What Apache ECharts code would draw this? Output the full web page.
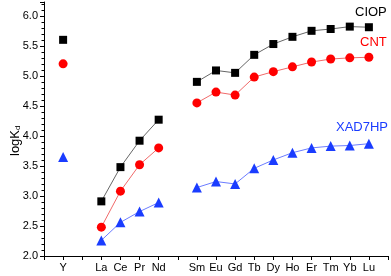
<!DOCTYPE html>
<html><head><meta charset="utf-8">
<script src="https://cdn.jsdelivr.net/npm/echarts@6/dist/echarts.min.js"></script>
<style>html,body{margin:0;padding:0;background:#fff}#c{width:391px;height:276px}</style>
</head><body><div id="c"></div>
<script>
const categories = ['', 'Y', '', 'La', 'Ce', 'Pr', 'Nd', '', 'Sm', 'Eu', 'Gd', 'Tb', 'Dy', 'Ho', 'Er', 'Tm', 'Yb', 'Lu', ''];
const ciop   = [null, 5.60, null, 2.91, 3.48, 3.92, 4.27, null, 4.90, 5.09, 5.05, 5.35, 5.53, 5.65, 5.75, 5.78, 5.82, 5.81, null];
const cnt    = [null, 5.20, null, 2.48, 3.08, 3.52, 3.80, null, 4.55, 4.73, 4.68, 4.98, 5.07, 5.15, 5.23, 5.28, 5.30, 5.31, null];
const xad7hp = [null, 3.65, null, 2.26, 2.56, 2.74, 2.89, null, 3.14, 3.24, 3.20, 3.46, 3.60, 3.72, 3.80, 3.83, 3.84, 3.87, null];
const seriesNames = ['CIOP', 'CNT', 'XAD7HP'];
const yTicks = [2.0, 2.5, 3.0, 3.5, 4.0, 4.5, 5.0, 5.5, 6.0];

const chart = echarts.init(document.getElementById('c'), null, {renderer: 'canvas'});
const font = 'Liberation Sans, Arial, sans-serif';
function mk(name, data, sym, size, color, lineColor) {
  return {
    name: name, type: 'line', data: data, connectNulls: false,
    symbol: sym, symbolSize: size, showSymbol: true,
    itemStyle: {color: color},
    lineStyle: {color: lineColor, width: 1},
    animation: false
  };
}
chart.setOption({
  animation: false,
  grid: {left: 44, right: 3, top: 2, bottom: 20, containLabel: false},
  xAxis: {
    type: 'category', data: categories, boundaryGap: false,
    axisLine: {lineStyle: {color: '#000', width: 1}},
    axisTick: {show: true, inside: false, length: 4, alignWithLabel: true, interval: 0, lineStyle: {color: '#000'}},
    axisLabel: {interval: 0, color: '#000', fontFamily: font, fontSize: 11, margin: 6},
    splitLine: {show: false}
  },
  yAxis: {
    type: 'value', min: 2.0, max: 6.23, interval: 0.5,
    axisLine: {show: true, lineStyle: {color: '#000', width: 1}},
    axisTick: {show: true, inside: false, length: 4, lineStyle: {color: '#000'}},
    minorTick: {show: true, splitNumber: 5, length: 2.5, lineStyle: {color: '#000'}},
    axisLabel: {color: '#000', fontFamily: font, fontSize: 11, margin: 6, showMaxLabel: false,
      formatter: v => yTicks.indexOf(v) >= 0 ? v.toFixed(1) : ''},
    splitLine: {show: false}
  },
  series: [
    mk(seriesNames[0], ciop, 'rect', 8, '#000000', '#666666'),
    mk(seriesNames[1], cnt, 'circle', 9, '#ff0000', '#f06a6a'),
    mk(seriesNames[2], xad7hp, 'triangle', 10, '#1a3cff', '#6b7cff')
  ],
  graphic: [
    {type: 'text', left: 355, top: 6, style: {text: 'CIOP', fill: '#000', font: '13px ' + font}},
    {type: 'text', left: 360, top: 36, style: {text: 'CNT', fill: '#ff0000', font: '13px ' + font}},
    {type: 'text', left: 336, top: 121, style: {text: 'XAD7HP', fill: '#1a3cff', font: '13px ' + font}},
    {type: 'text', x: 8, y: 156, rotation: Math.PI / 2,
      style: {text: '{a|logK}{b|d}', fill: '#000',
        rich: {a: {fontSize: 13, fontFamily: font, fill: '#000'}, b: {fontSize: 8, fontFamily: font, fill: '#000', padding: [6, 0, 0, 0]}}}}
  ]
});
</script></body></html>
